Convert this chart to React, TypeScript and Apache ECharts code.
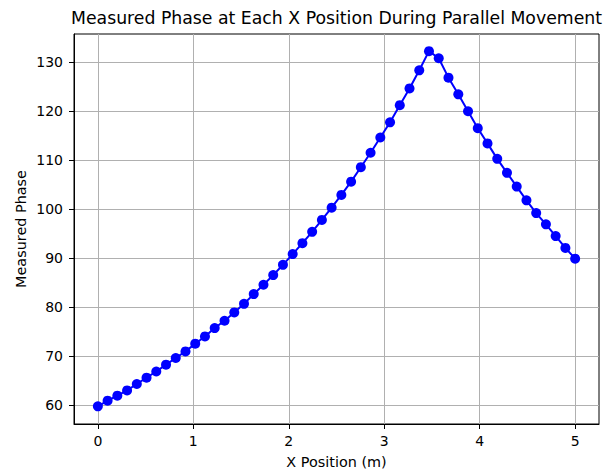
import React, { useEffect, useRef } from "react";
import * as echarts from "echarts";

const TITLE = "Measured Phase at Each X Position During Parallel Movement";
const X_LABEL = "X Position (m)";
const Y_LABEL = "Measured Phase";

const xPositions = [
  0, 0.102, 0.204, 0.306, 0.408, 0.51, 0.612, 0.714, 0.816, 0.918,
  1.02, 1.122, 1.224, 1.327, 1.429, 1.531, 1.633, 1.735, 1.837, 1.939,
  2.041, 2.143, 2.245, 2.347, 2.449, 2.551, 2.653, 2.755, 2.857, 2.959,
  3.061, 3.163, 3.265, 3.367, 3.469, 3.571, 3.673, 3.776, 3.878, 3.98,
  4.082, 4.184, 4.286, 4.388, 4.49, 4.592, 4.694, 4.796, 4.898, 5.0,
];

const phaseValues = [
  59.8, 60.96, 61.97, 63.05, 64.35, 65.64, 66.9, 68.3, 69.65, 71.0,
  72.57, 74.05, 75.76, 77.25, 78.94, 80.7, 82.68, 84.58, 86.55, 88.65,
  90.83, 93.07, 95.37, 97.8, 100.3, 102.9, 105.6, 108.55, 111.5, 114.6,
  117.7, 121.2, 124.6, 128.3, 132.2, 130.75, 126.8, 123.4, 119.96, 116.5,
  113.4, 110.25, 107.4, 104.6, 101.8, 99.2, 96.9, 94.5, 92.1, 89.9,
];

const xTicks = [0, 1, 2, 3, 4, 5];
const yTicks = [60, 70, 80, 90, 100, 110, 120, 130];

const FONT = "DejaVu Sans";

export default function App() {
  const ref = useRef<HTMLDivElement>(null);

  useEffect(() => {
    if (!ref.current) return;
    const chart = echarts.init(ref.current, null, { renderer: "svg" });
    const GL = 74, GR = 599, GT = 34, GB = 424;
    chart.setOption({
      animation: false,
      backgroundColor: "#ffffff",
      grid: {
        left: GL,
        right: 608 - GR,
        top: GT,
        bottom: 473 - GB,
        show: true,
        borderColor: "#000000",
        borderWidth: 1,
        backgroundColor: "transparent",
      },
      graphic: [
        {
          type: "text",
          x: (GL + GR) / 2,
          y: 18,
          style: {
            text: TITLE,
            font: `17.3px "${FONT}"`,
            fill: "#000000",
            align: "center",
            verticalAlign: "middle",
          },
        },
        {
          type: "text",
          x: (GL + GR) / 2,
          y: 461.5,
          style: {
            text: X_LABEL,
            font: `14.4px "${FONT}"`,
            fill: "#000000",
            align: "center",
            verticalAlign: "middle",
          },
        },
        {
          type: "text",
          x: 20.5,
          y: (GT + GB) / 2,
          rotation: Math.PI / 2,
          style: {
            text: Y_LABEL,
            font: `14.4px "${FONT}"`,
            fill: "#000000",
            align: "center",
            verticalAlign: "middle",
          },
        },
      ],
      xAxis: {
        type: "value",
        min: -0.25,
        max: 5.25,
        axisLine: { show: true, onZero: false, lineStyle: { color: "#000000", width: 1 } },
        axisTick: {
          show: true,
          inside: false,
          length: 5,
          customValues: xTicks,
          lineStyle: { color: "#000000", width: 1 },
        },
        axisLabel: {
          customValues: xTicks,
          margin: 10,
          color: "#000000",
          fontFamily: FONT,
          fontSize: 14,
          formatter: (v: number) => String(v),
        },
        splitLine: { show: true, lineStyle: { color: "#b0b0b0", width: 1 } },
      },
      yAxis: {
        type: "value",
        min: 56.2,
        max: 135.7,
        axisLine: { show: true, onZero: false, lineStyle: { color: "#000000", width: 1 } },
        axisTick: {
          show: true,
          inside: false,
          length: 5,
          customValues: yTicks,
          lineStyle: { color: "#000000", width: 1 },
        },
        axisLabel: {
          customValues: yTicks,
          margin: 11,
          color: "#000000",
          fontFamily: FONT,
          fontSize: 14,
          formatter: (v: number) => String(v),
        },
        splitLine: { show: true, lineStyle: { color: "#b0b0b0", width: 1 } },
      },
      series: [
        {
          type: "line",
          data: xPositions.map((x, i) => [x, phaseValues[i]]),
          symbol: "circle",
          symbolSize: 10,
          showSymbol: true,
          lineStyle: { color: "#0000ff", width: 2 },
          itemStyle: { color: "#0000ff", borderWidth: 0 },
          emphasis: { disabled: true },
          clip: false,
        },
      ],
    });
    return () => chart.dispose();
  }, []);

  return (
    <div
      ref={ref}
      style={{ position: "fixed", left: 0, top: 0, width: 608, height: 473 }}
    />
  );
}
